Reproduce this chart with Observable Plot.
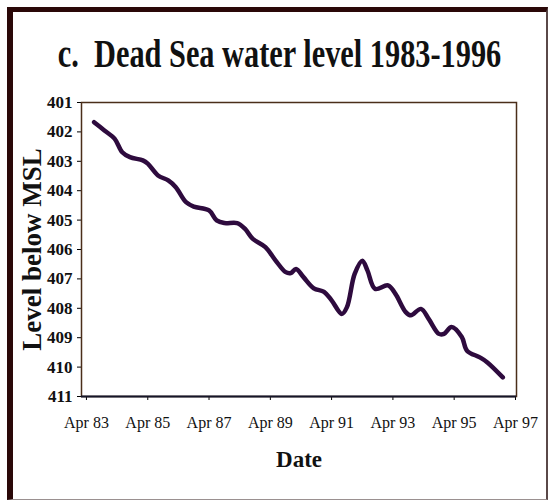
<!DOCTYPE html>
<html>
<head>
<meta charset="utf-8">
<script src="https://cdn.jsdelivr.net/npm/d3@7"></script>
<script src="https://cdn.jsdelivr.net/npm/@observablehq/plot@0.6"></script>
<style>
  html, body { margin: 0; padding: 0; background: #fff; }
  #page { position: relative; width: 549px; height: 501px; overflow: hidden; background: #fff; }
  #border { position: absolute; left: 7px; top: 7px; width: 541px; height: 493px; box-sizing: border-box;
    border-top: 5px solid #2a0808; border-left: 6px solid #2a0808;
    border-right: 2px solid #5a4848; border-bottom: 1px solid #9a9090; pointer-events: none; z-index: 2; }
  #title { position: absolute; left: -15px; top: 33px; width: 560px; text-align: center;
    font-family: "Liberation Serif", serif; font-weight: bold; font-size: 41px; line-height: 41px;
    color: #111; transform: scaleX(0.74); transform-origin: 280px 0; white-space: nowrap; }
  #chart { position: absolute; left: 0; top: 0; }
  #chart svg text { font-family: "Liberation Serif", serif; fill: #111; }
  g[aria-label="y-axis label"] text { font-weight: bold; font-size: 27px; }
  g[aria-label="x-axis label"] text { font-weight: bold; font-size: 23px; }
</style>
</head>
<body>
<div id="page">
  <div id="title">c.&nbsp;&nbsp;Dead Sea water level 1983-1996</div>
  <div id="chart"></div>
  <div id="border"></div>
</div>
<script>
// Dates (year-month) and level below MSL (m)
const dates = ["1983-07","1983-11","1984-03","1984-06","1984-09","1985-02","1985-04","1985-08","1985-12","1986-03",
  "1986-07","1986-10","1987-04","1987-07","1987-10","1988-03","1988-06","1988-09","1989-02","1989-06",
  "1989-10","1989-12","1990-02","1990-05","1990-09","1991-01","1991-04","1991-08","1991-10","1992-01",
  "1992-04","1992-06","1992-09","1993-02","1993-05","1993-09","1993-11","1994-03","1994-06","1994-10",
  "1994-12","1995-03","1995-07","1995-09","1996-02","1996-05","1996-11"];
const levels = [401.67,401.95,402.23,402.69,402.86,402.97,403.08,403.48,403.65,403.88,
  404.39,404.54,404.67,405.01,405.10,405.10,405.29,405.63,405.92,406.37,
  406.77,406.80,406.66,406.94,407.32,407.44,407.73,408.19,407.96,406.83,
  406.38,406.71,407.34,407.22,407.51,408.13,408.24,408.02,408.36,408.87,
  408.87,408.64,408.98,409.44,409.67,409.84,410.35];
const xTicks = ["1983-04","1985-04","1987-04","1989-04","1991-04","1993-04","1995-04","1997-04"];
const yTicks = [401,402,403,404,405,406,407,408,409,410,411];

const parse = d3.utcParse("%Y-%m");
const data = dates.map((d, i) => ({date: parse(d), level: levels[i]}));
const serif = "'Liberation Serif', serif";

const chart = Plot.plot({
  width: 549,
  height: 501,
  marginLeft: 81,
  marginRight: 33,
  marginTop: 102,
  marginBottom: 105,
  style: {background: "transparent", overflow: "visible"},
  x: {type: "utc", domain: [parse("1983-02"), d3.utcDay.offset(parse("1997-04"), 12)]},
  y: {domain: [401, 411], reverse: true},
  marks: [
    Plot.axisY({ticks: yTicks, tickSize: 4, tickPadding: 5, tickFormat: d => String(d),
      fontFamily: serif, fontSize: 17, fontWeight: "bold",
      label: "Level below MSL", labelAnchor: "center", labelArrow: "none", labelOffset: 60}),
    Plot.axisX({ticks: xTicks.map(parse), tickSize: 4, tickPadding: 16, tickFormat: d3.utcFormat("Apr %y"),
      fontFamily: serif, fontSize: 16, letterSpacing: "0.4px",
      label: "Date", labelAnchor: "center", labelArrow: "none", labelOffset: 70}),
    Plot.frame({stroke: "#4a2e1a", strokeWidth: 1.5}),
    Plot.ruleY([411], {stroke: "#151528", strokeWidth: 2}),
    Plot.line(data, {x: "date", y: "level", curve: "catmull-rom", stroke: "#2e0b3e", strokeWidth: 4.5,
      strokeLinejoin: "round", strokeLinecap: "round"})
  ]
});
document.getElementById("chart").appendChild(chart);
</script>
</body>
</html>
